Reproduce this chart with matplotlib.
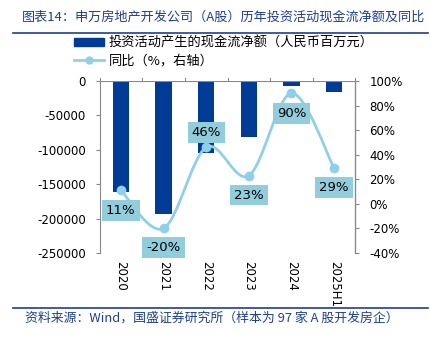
import numpy as np
import matplotlib
matplotlib.use("Agg")
import matplotlib.pyplot as plt
from matplotlib.path import Path
from matplotlib.patches import PathPatch
from matplotlib.lines import Line2D
from matplotlib.patches import Patch

plt.rcParams['font.family'] = ['Noto Sans CJK SC', 'DejaVu Sans']

# data
years = ['2020', '2021', '2022', '2023', '2024', '2025H1']
cash_flow = [-162000, -194000, -104000, -81000, -7300, -15600]  # 人民币百万元
yoy = [11, -20, 46, 23, 90, 29]  # %
yoy_labels = ['11%', '-20%', '46%', '23%', '90%', '29%']

bar_color = '#003C96'
line_color = '#8FD0E8'
box_color = '#92CDDC'
text_blue = '#1F3F8F'

fig = plt.figure(figsize=(4.31, 3.40), dpi=100)
ax = fig.add_axes([0.2309, 0.2559, 0.5939, 0.5059])
ax2 = ax.twinx()

x = np.arange(len(years))
ax.bar(x, cash_flow, width=0.39, color=bar_color, zorder=2)
ax.set_xlim(-0.5, len(years) - 0.5)
ax.set_ylim(-250000, 0)
ax.set_yticks(np.arange(-250000, 1, 50000))
ax.set_yticklabels([str(v) for v in range(-250000, 1, 50000)], family='DejaVu Sans')

# category axis sits on the zero line (top), labels at the bottom
ax.set_xticks(x)
ax.set_xticklabels(years, rotation=270, fontsize=8.5, family='DejaVu Sans')
ax.tick_params(axis='x', length=0, pad=6)
for b in np.arange(-0.5, len(years), 1.0):
    ax.plot([b, b], [0, 4000], color='#888888', lw=0.8, clip_on=False)
ax.axhline(0, color='#888888', lw=0.8, zorder=3)

for side in ['top', 'bottom']:
    ax.spines[side].set_visible(False)
    ax2.spines[side].set_visible(False)
for sp in [ax.spines['left'], ax2.spines['right']]:
    sp.set_color('#888888')
    sp.set_linewidth(0.8)
ax.tick_params(axis='y', labelsize=8.5, color='#888888', length=3, direction='out', pad=7)

ax2.set_ylim(-40, 100)
ax2.set_yticks(np.arange(-40, 101, 20))
ax2.set_yticklabels([f'{v}%' for v in range(-40, 101, 20)], family='DejaVu Sans')
ax2.tick_params(axis='y', labelsize=8.5, color='#888888', length=3, direction='out', pad=7)
ax2.spines['left'].set_visible(False)

# smoothed line (Bezier through the points)
pts = np.column_stack([x, yoy]).astype(float)
n = len(pts)
verts = [tuple(pts[0])]
codes = [Path.MOVETO]
for i in range(n - 1):
    p0 = pts[i - 1] if i > 0 else pts[i]
    p1 = pts[i]
    p2 = pts[i + 1]
    p3 = pts[i + 2] if i + 2 < n else pts[i + 1]
    c1 = p1 + (p2 - p0) / 6.0
    c2 = p2 - (p3 - p1) / 6.0
    verts += [tuple(c1), tuple(c2), tuple(p2)]
    codes += [Path.CURVE4] * 3
ax2.add_patch(PathPatch(Path(verts, codes), facecolor='none', edgecolor=line_color, lw=2, zorder=4))
ax2.plot(x, yoy, 'o', color=line_color, ms=6, zorder=5)

# data labels
offsets = [-14.5, -13.7, 10.8, -14, -14.4, -14.2]
for xi, yi, lab, off in zip(x, yoy, yoy_labels, offsets):
    ax2.annotate(lab, (xi, yi), xytext=(0, off), textcoords='offset points',
                 ha='center', va='center', fontsize=9.5, family='DejaVu Sans',
                 bbox=dict(boxstyle='square,pad=0.3', fc=box_color, ec='none'), zorder=6)

# legend
handles = [Patch(color=bar_color), Line2D([], [], color=line_color, lw=2, marker='o', ms=5)]
fig.legend(handles, ['投资活动产生的现金流净额（人民币百万元）', '同比（%，右轴）'],
           loc='upper left', bbox_to_anchor=(0.172, 0.893), frameon=False, fontsize=9.5,
           handlelength=2.3, handleheight=0.55, labelspacing=0.35, handletextpad=0.3,
           borderaxespad=0, borderpad=0)

# title, footer and rules
fig.text(0.051, 0.95, '图表14：申万房地产开发公司（A股）历年投资活动现金流净额及同比',
         fontsize=9.45, color=text_blue, va='center', ha='left')
fig.add_artist(Line2D([0.03, 0.993], [0.904, 0.904], color=text_blue, lw=1.2))
fig.add_artist(Line2D([0.03, 0.993], [0.095, 0.095], color=text_blue, lw=1.2))
fig.text(0.057, 0.065, '资料来源：Wind，国盛证券研究所（样本为 97 家 A 股开发房企）',
         fontsize=9.3, color=text_blue, va='center', ha='left')

fig.savefig('out.png', dpi=100)
